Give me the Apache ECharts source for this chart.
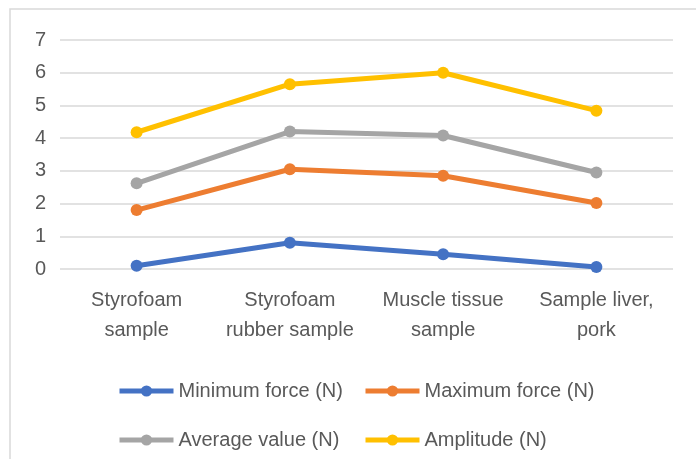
<!DOCTYPE html>
<html>
<head>
<meta charset="utf-8">
<script src="https://cdn.jsdelivr.net/npm/echarts@6/dist/echarts.min.js"></script>
<style>
  html, body { margin: 0; padding: 0; background: #fff; }
  #container { width: 696px; height: 459px; }
</style>
</head>
<body>
<div id="container"></div>
<script>
var dom = document.getElementById('container');
var myChart = echarts.init(dom);

// categories on the x axis
let samples = ['Styrofoam\nsample', 'Styrofoam\nrubber sample', 'Muscle tissue\nsample', 'Sample liver,\npork']
// values
let minForce = [0.1, 0.8, 0.45, 0.06]
let maxForce = [1.8, 3.05, 2.85, 2.02]
let avgValue = [2.62, 4.2, 4.08, 2.95]
let amplitude = [4.18, 5.65, 6.0, 4.84]
let yTicks = [0, 1, 2, 3, 4, 5, 6, 7]

let font = "'Liberation Sans', Arial, sans-serif"
let textColor = '#595959'

function lineSeries(name, color, data) {
    return {
        name: name,
        type: 'line',
        symbol: 'circle',
        symbolSize: 12,
        lineStyle: { width: 5, color: color },
        itemStyle: { color: color },
        data: data
    }
}

// one legend per entry so they line up in two columns like Excel
function legendItem(left, top, name) {
    return {
        left: left,
        top: top,
        itemWidth: 54,
        itemHeight: 14,
        data: [name],
        lineStyle: { width: 5 },
        textStyle: { color: textColor, fontSize: 20, fontFamily: font }
    }
}

option = {
    backgroundColor: '#fff',
    animation: false,
    graphic: [{
        type: 'rect',
        shape: { x: 10, y: 9, width: 700, height: 460 },
        style: { fill: 'none', stroke: '#d9d9d9', lineWidth: 1.5 },
        silent: true
    }],
    legend: [
        legendItem(112, 376, 'Minimum force (N)'),
        legendItem(358, 376, 'Maximum force (N)'),
        legendItem(112, 425, 'Average value (N)'),
        legendItem(358, 425, 'Amplitude (N)')
    ],
    grid: {
        top: 40,
        left: 60,
        right: 23,
        bottom: 190
    },
    xAxis: {
        type: 'category',
        boundaryGap: true,
        data: samples,
        axisLine: { show: false },
        axisTick: { show: false },
        axisLabel: {
            color: textColor,
            fontSize: 20,
            fontFamily: font,
            lineHeight: 30,
            margin: 16,
            interval: 0
        }
    },
    yAxis: {
        type: 'value',
        min: yTicks[0],
        max: yTicks[yTicks.length - 1],
        interval: 1,
        axisLine: { show: false },
        axisTick: { show: false },
        splitLine: { lineStyle: { color: '#d9d9d9', width: 1.5 } },
        axisLabel: {
            color: textColor,
            fontSize: 20,
            fontFamily: font,
            margin: 14
        }
    },
    series: [
        lineSeries('Minimum force (N)', '#4472C4', minForce),
        lineSeries('Maximum force (N)', '#ED7D31', maxForce),
        lineSeries('Average value (N)', '#A5A5A5', avgValue),
        lineSeries('Amplitude (N)', '#FFC000', amplitude)
    ]
};
myChart.setOption(option);

window.addEventListener('resize', function () {
    myChart.resize();
});
</script>
</body>
</html>
